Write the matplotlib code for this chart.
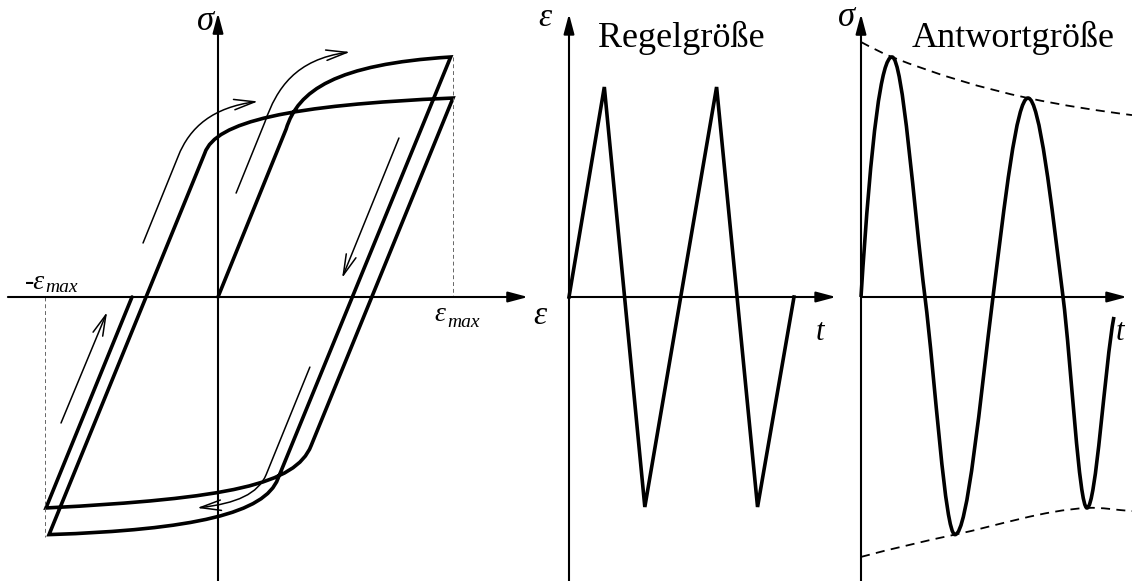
import matplotlib
matplotlib.use('Agg')
import matplotlib.pyplot as plt
from matplotlib.path import Path
from matplotlib.patches import PathPatch, FancyArrowPatch

plt.rcParams['font.family'] = ['Liberation Serif', 'DejaVu Serif']

W, H = 1132, 581

# --- hysteresis loop, eps/eps_max vs sigma/sigma_max --------------------
# turning points (reversals) in load order: B1, A2, B2, A1
eps_turn = [0.99, -0.719, 1.0, -0.732]
sig_turn = [1.0, -0.99, 0.829, -0.879]
# end of the elastic part of each branch
eps_knee = [0.29, 0.255, -0.056, 0.396]
sig_knee = [0.70, -0.757, 0.60, -0.62]
# bezier handles of the plastic part
handle_a = [(0.34, 0.86), (0.20, -0.90), (-0.01, 0.73), (0.33, -0.78)]
handle_b = [(0.50, 0.97), (-0.10, -0.97), (0.30, 0.80), (0.05, -0.84)]
eps_unloaded = -0.366

# direction arrows along the loop (start, line end, two handles, tip)
arrow_curved = [
    [(-0.319, 0.225), (-0.17, 0.585), (-0.12, 0.71), (-0.02, 0.79), (0.17, 0.815)],
    [(0.077, 0.433), (0.20, 0.73), (0.25, 0.87), (0.33, 0.99), (0.562, 1.021)],
    [(0.391, -0.292), (0.205, -0.74), (0.17, -0.82), (0.08, -0.86), (-0.089, -0.879)],
]
arrow_straight = [
    [(0.770, 0.6625), (0.528, 0.079)],
    [(-0.668, -0.525), (-0.472, -0.0625)],
]

# --- strain signal (Regelgroesse) ----------------------------------------
t_ctrl = [0, 0.157, 0.337, 0.656, 0.838, 1.0]
eps_ctrl = [0, 1, -1, 1, -1, 0]

# --- stress response (Antwortgroesse) ------------------------------------
t_resp = [0, 0.137, 0.283, 0.416, 0.584, 0.739, 0.894, 1.0, 1.119]
sig_resp = [0, 1.0, 0, -0.99, 0, 0.829, 0, -0.879, -0.083]
slope_resp = [15, 0, -7.5, 0, 7.5, 0, -7.5, 0, 5]

t_env_up = [0, 0.137, 0.739, 1.199]
sig_env_up = [1.0625, 1.0, 0.829, 0.758]
slope_env_up = [-0.5, -0.37, -0.2, -0.12]
t_env_lo = [0, 0.416, 1.0, 1.199]
sig_env_lo = [-1.083, -0.99, -0.879, -0.892]
slope_env_lo = [0.25, 0.2, 0.05, -0.06]


def panel(ox, oy, sx, sy):
    # full-figure axes whose origin sits at pixel (ox, oy)
    ax = fig.add_axes([0, 0, 1, 1])
    ax.set_xlim(-ox / sx, (W - ox) / sx)
    ax.set_ylim((oy - H) / sy, oy / sy)
    ax.axis('off')
    ax.patch.set_visible(False)
    return ax


def axis_arrow(ax, tail, tip):
    ax.annotate('', xy=tip, xytext=tail,
                arrowprops=dict(arrowstyle='-|>,head_length=0.75,head_width=0.2',
                                lw=1.5, color='k', shrinkA=0, shrinkB=0,
                                mutation_scale=16))


def smooth(xs, ys, ms):
    verts = [(xs[0], ys[0])]
    codes = [Path.MOVETO]
    for i in range(len(xs) - 1):
        h = (xs[i + 1] - xs[i]) / 3
        verts += [(xs[i] + h, ys[i] + ms[i] * h),
                  (xs[i + 1] - h, ys[i + 1] - ms[i + 1] * h),
                  (xs[i + 1], ys[i + 1])]
        codes += [Path.CURVE4] * 3
    return Path(verts, codes)


def thin_arrow(ax, verts):
    codes = [Path.MOVETO] + [Path.LINETO] * (len(verts) - 1)
    if len(verts) == 5:
        codes = [Path.MOVETO, Path.LINETO, Path.CURVE4, Path.CURVE4, Path.CURVE4]
    ax.add_patch(FancyArrowPatch(path=Path(verts, codes),
                                 arrowstyle='->,head_length=1.0,head_width=0.25',
                                 mutation_scale=15, lw=1.1, color='k'))


fig = plt.figure(figsize=(W / 100, H / 100), dpi=100)

# ---------------- panel 1: sigma-epsilon loop ----------------
ax1 = panel(218, 297, 235, 240)
axis_arrow(ax1, (-0.894, 0), (1.319, 0))
axis_arrow(ax1, (0, -1.183), (0, 1.183))
ax1.plot([1.0, 1.0], [sig_turn[0], 0], ls=(0, (4, 3)), lw=0.7, color='#666666')
ax1.plot([-0.736, -0.736], [0, -1.0], ls=(0, (4, 3)), lw=0.7, color='#666666')

verts = [(0, 0)]
codes = [Path.MOVETO]
for i in range(4):
    verts += [(eps_knee[i], sig_knee[i]), handle_a[i], handle_b[i], (eps_turn[i], sig_turn[i])]
    codes += [Path.LINETO, Path.CURVE4, Path.CURVE4, Path.CURVE4]
verts.append((eps_unloaded, 0))
codes.append(Path.LINETO)
ax1.add_patch(PathPatch(Path(verts, codes), fill=False, lw=2.6, color='k',
                        capstyle='round', joinstyle='miter'))

for v in arrow_curved + arrow_straight:
    thin_arrow(ax1, v)

ax1.text(-0.055, 1.146, 'σ', fontsize=25, style='italic', ha='center', va='center')
ax1.text(1.370, -0.079, 'ε', fontsize=24, style='italic', ha='center', va='center')
ax1.text(0.945, -0.072, 'ε', fontsize=20, style='italic', ha='center', va='center')
ax1.text(0.974, -0.108, 'max', fontsize=14, style='italic', ha='left', va='center')
ax1.text(-0.779, 0.062, '-ε', fontsize=20, style='italic', ha='center', va='center')
ax1.text(-0.736, 0.040, 'max', fontsize=14, style='italic', ha='left', va='center')

# ---------------- panel 2: controlled strain ----------------
ax2 = panel(569, 297, 225, 210)
axis_arrow(ax2, (0, 0), (1.187, 0))
axis_arrow(ax2, (0, -1.352), (0, 1.348))
ax2.plot(t_ctrl, eps_ctrl, lw=2.6, color='k', solid_joinstyle='miter')
ax2.text(-0.107, 1.329, 'ε', fontsize=24, style='italic', ha='center', va='center')
ax2.text(0.129, 1.190, 'Regelgröße', fontsize=26, ha='left', va='baseline')
ax2.text(1.116, -0.171, 't', fontsize=22, style='italic', ha='center', va='center')

# ---------------- panel 3: stress response ----------------
ax3 = panel(861, 297, 226, 240)
axis_arrow(ax3, (0, 0), (1.177, 0))
axis_arrow(ax3, (0, -1.183), (0, 1.179))
ax3.add_patch(PathPatch(smooth(t_env_up, sig_env_up, slope_env_up), fill=False,
                        lw=1.3, color='k', ls=(0, (5, 3.5))))
ax3.add_patch(PathPatch(smooth(t_env_lo, sig_env_lo, slope_env_lo), fill=False,
                        lw=1.3, color='k', ls=(0, (5, 3.5))))
ax3.add_patch(PathPatch(smooth(t_resp, sig_resp, slope_resp), fill=False,
                        lw=2.6, color='k'))
ax3.text(-0.062, 1.1625, 'σ', fontsize=25, style='italic', ha='center', va='center')
ax3.text(0.226, 1.042, 'Antwortgröße', fontsize=26, ha='left', va='baseline')
ax3.text(1.146, -0.15, 't', fontsize=22, style='italic', ha='center', va='center')

fig.savefig('out.png', dpi=100)
